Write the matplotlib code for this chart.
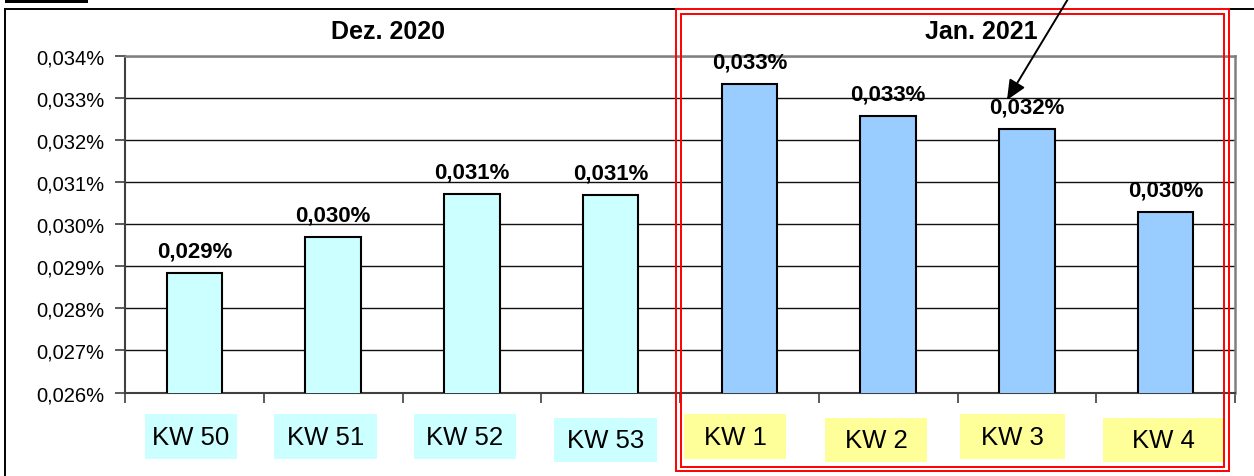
import numpy as np
import matplotlib
matplotlib.use('Agg')
import matplotlib.pyplot as plt
from matplotlib.patches import Rectangle, FancyArrowPatch
from matplotlib.lines import Line2D

plt.rcParams['font.family'] = ['Liberation Sans', 'DejaVu Sans']

# data
weeks = ['KW 50', 'KW 51', 'KW 52', 'KW 53', 'KW 1', 'KW 2', 'KW 3', 'KW 4']
share = [0.028833, 0.029702, 0.030717, 0.030693, 0.033331, 0.032570, 0.032262, 0.030297]
months = ['Dez. 2020', 'Jan. 2021']
yticks = [0.026, 0.027, 0.028, 0.029, 0.030, 0.031, 0.032, 0.033, 0.034]

W, H = 1254, 477
fig = plt.figure(figsize=(W / 100, H / 100), dpi=100)


def fx(x):
    return x / W


def fy(y):
    return 1 - y / H


bar_col = ['#CCFFFF'] * 4 + ['#99CCFF'] * 4
box_col = ['#CCFFFF'] * 4 + ['#FFFF99'] * 4

ax = fig.add_axes([fx(125), fy(393.5), (1235 - 125) / W, (393.5 - 57) / H])
x = np.arange(len(weeks))
ax.bar(x, share, width=0.4, color=bar_col, edgecolor='black', linewidth=1.5, zorder=3)
ax.set_xlim(-0.5, len(weeks) - 0.5)
ax.set_ylim(yticks[0], yticks[-1])
ax.set_yticks(yticks)
ax.set_yticklabels([f'{t:.3f}%'.replace('.', ',') for t in yticks], fontsize=14.5)
ax.set_xticks(np.arange(-0.5, len(weeks)))
ax.set_xticklabels([])
ax.tick_params(axis='y', length=7, width=1.2, color='#404040', pad=8)
ax.tick_params(axis='x', length=7, width=1.2, color='#404040')
ax.set_axisbelow(True)
ax.yaxis.grid(True, color='#111111', linewidth=1.0)
for s in ['left', 'bottom']:
    ax.spines[s].set_color('#404040')
    ax.spines[s].set_linewidth(1.5)
for s in ['top', 'right']:
    ax.spines[s].set_color('#808080')
    ax.spines[s].set_linewidth(1.8)

# value labels
for xi, v in zip(x, share):
    ax.annotate(f'{v:.3f}%'.replace('.', ','), (xi, v), xytext=(0, 12),
                textcoords='offset points', ha='center', va='baseline',
                fontsize=16, fontweight='bold', zorder=5)

# month headers
for name, px in zip(months, [388, 981]):
    fig.text(fx(px), fy(39), name, ha='center', va='baseline',
             fontsize=18, fontweight='bold')

# week label boxes (x0, x1, y0, y1 in pixels)
boxes = [(145, 237, 415, 460), (274, 377, 415, 460), (414, 516, 415, 460),
         (554, 657, 418.5, 463), (684, 786, 415, 459.5), (825, 927, 418.5, 463),
         (960, 1065, 415, 459.5), (1103, 1224, 418.5, 463)]
for lbl, (x0, x1, y0, y1), c in zip(weeks, boxes, box_col):
    fig.add_artist(Rectangle((fx(x0), fy(y1)), (x1 - x0) / W, (y1 - y0) / H,
                             transform=fig.transFigure, facecolor=c,
                             edgecolor='none', zorder=1))
    fig.text(fx((x0 + x1) / 2), fy(y1 - 14.5), lbl, ha='center', va='baseline',
             fontsize=18.5, zorder=2)

# outer frame and black tab
fig.add_artist(Line2D([fx(5), fx(5)], [fy(10), fy(490)], transform=fig.transFigure,
                      color='black', lw=1.4))
fig.add_artist(Line2D([fx(5), fx(1260)], [fy(10), fy(10)], transform=fig.transFigure,
                      color='black', lw=1.4))
fig.add_artist(Rectangle((fx(5), fy(3.5)), 83 / W, 3.5 / H, transform=fig.transFigure,
                         facecolor='black', edgecolor='none'))

# red double frame
for (x0, y0, x1, y1) in [(676, 10, 1229, 472), (681, 15, 1224, 468)]:
    fig.add_artist(Rectangle((fx(x0), fy(y1)), (x1 - x0) / W, (y1 - y0) / H,
                             transform=fig.transFigure, fill=False,
                             edgecolor='#FF0000', lw=1.4, zorder=6))
fig.add_artist(Rectangle((fx(676), fy(10.5)), (1229 - 676) / W, 5 / H,
                         transform=fig.transFigure, facecolor='white',
                         edgecolor='none', zorder=5))

# arrow
fig.add_artist(FancyArrowPatch((fx(1071), fy(-5)), (fx(1007), fy(101)),
                               transform=fig.transFigure,
                               arrowstyle='-|>,head_length=0.6,head_width=0.27',
                               mutation_scale=20, color='black', lw=1.4,
                               shrinkA=0, shrinkB=0, zorder=7))

fig.savefig('out.png', dpi=100)
